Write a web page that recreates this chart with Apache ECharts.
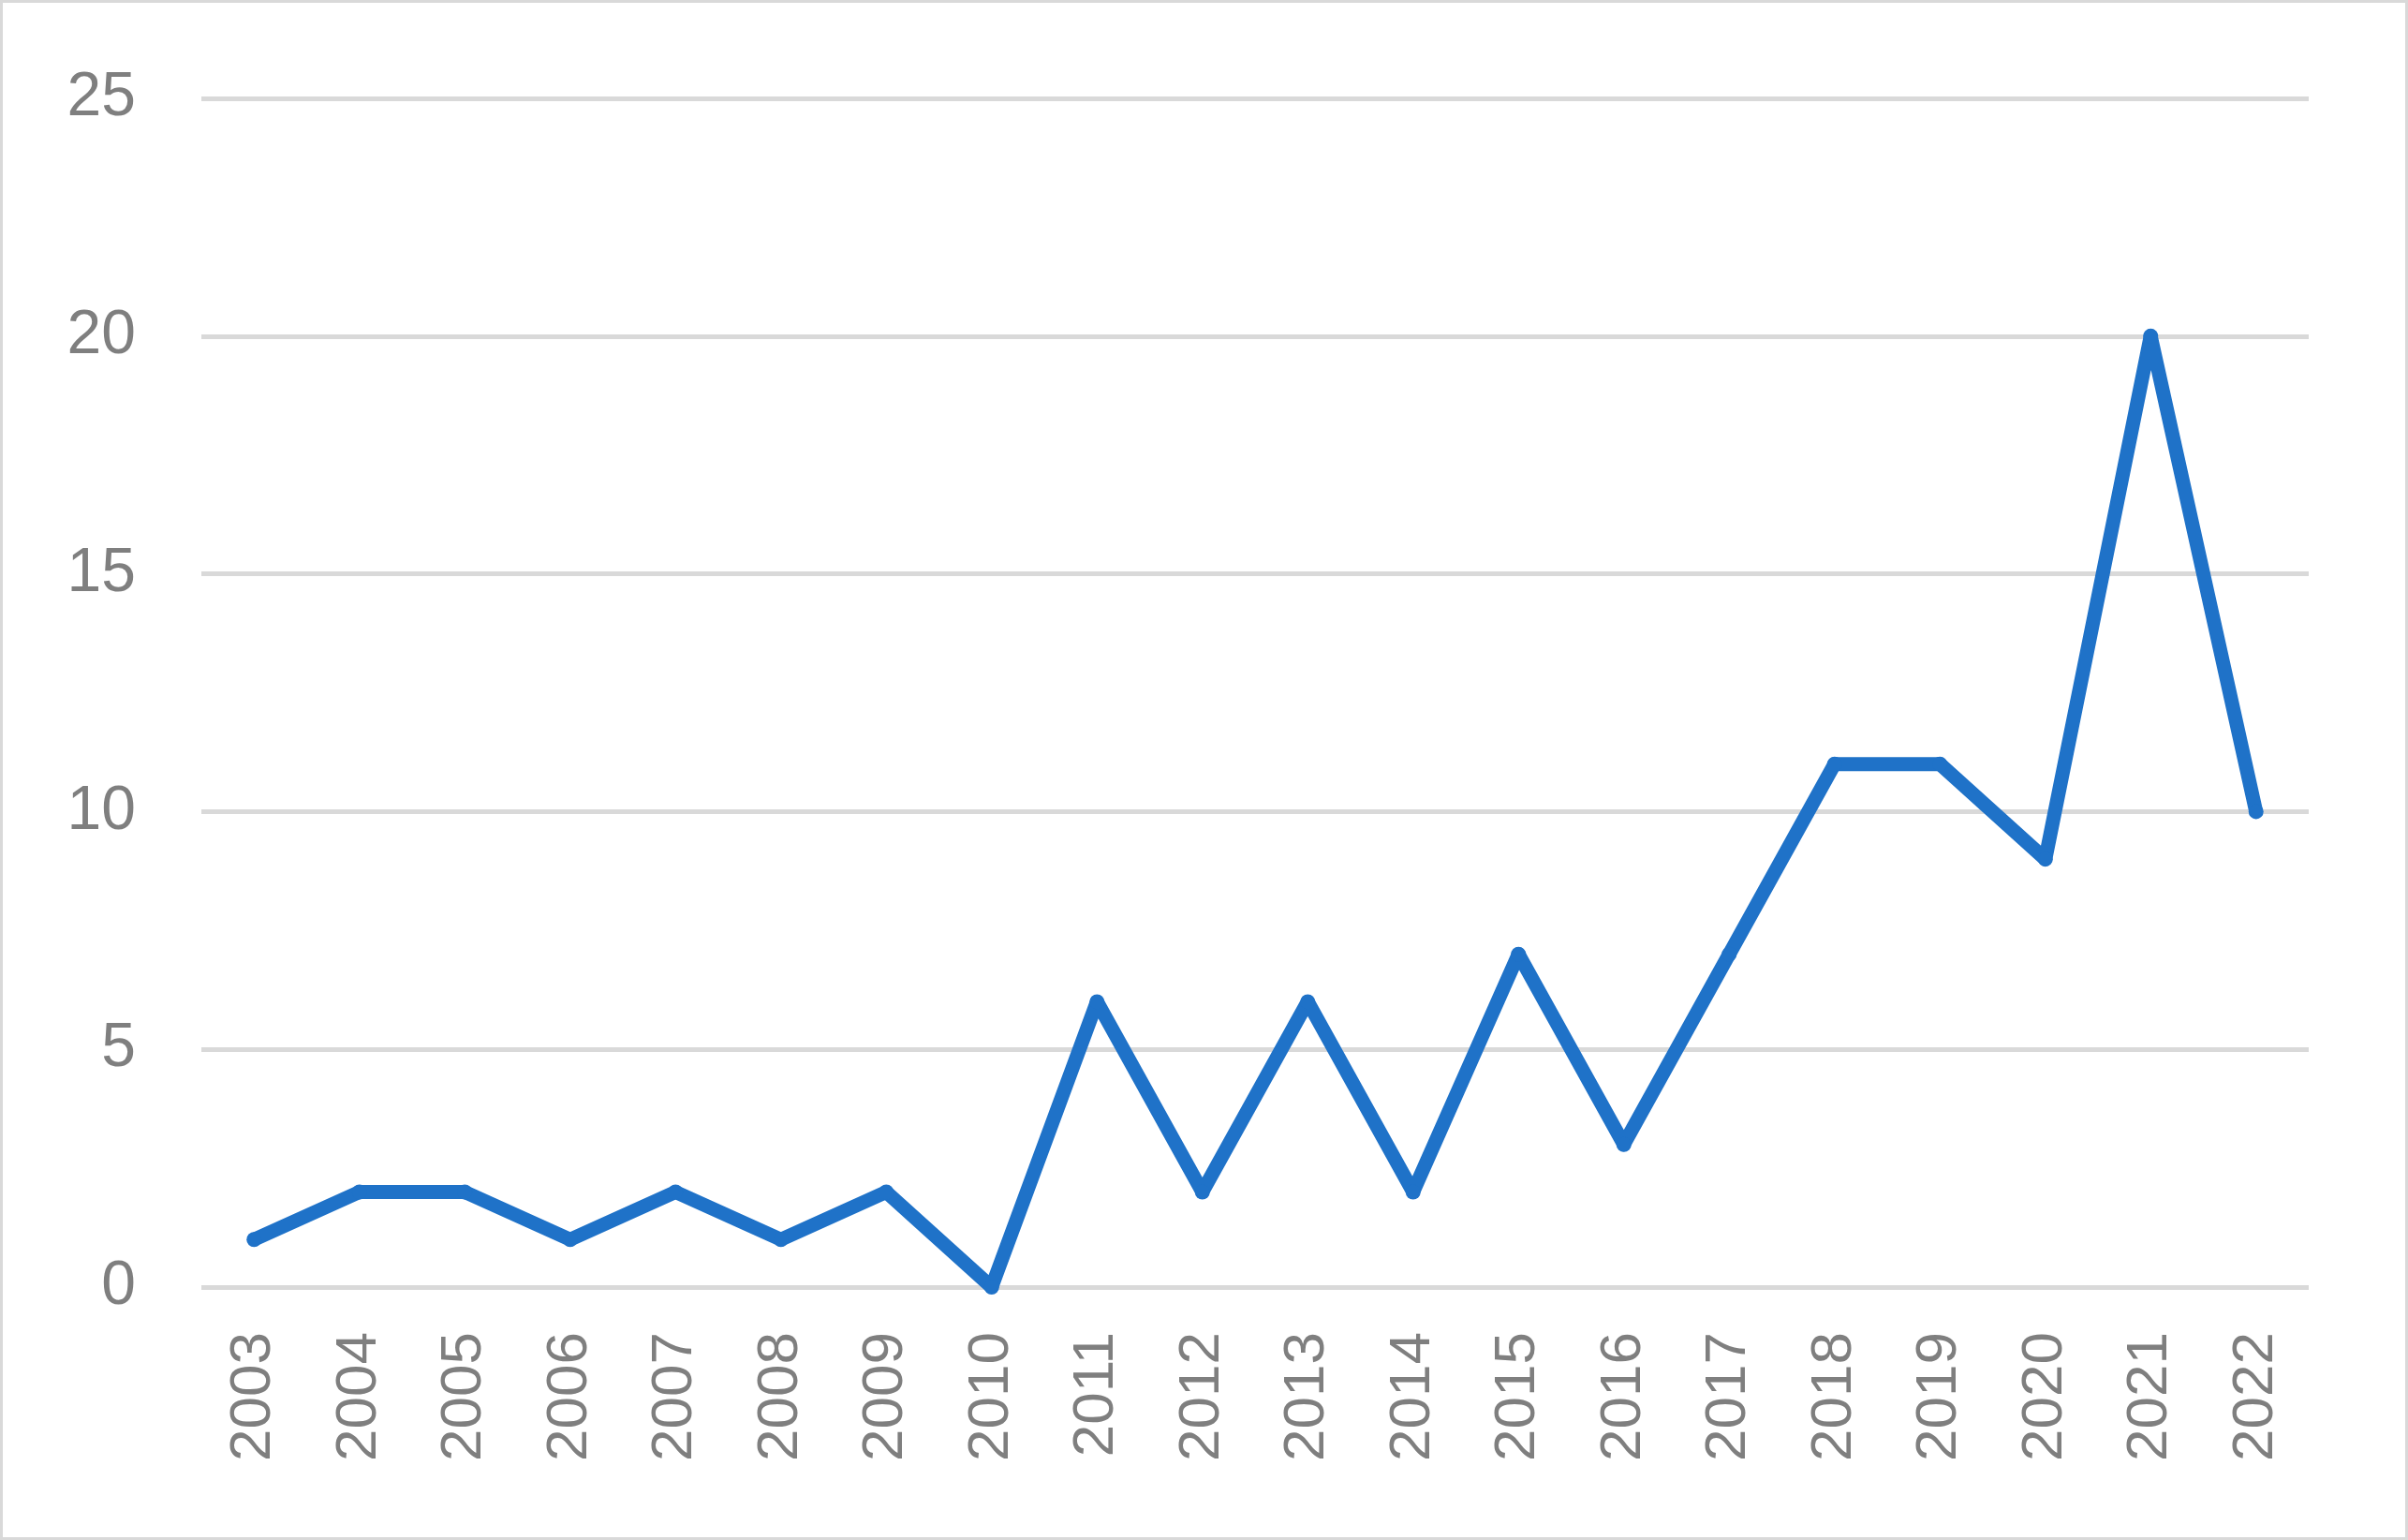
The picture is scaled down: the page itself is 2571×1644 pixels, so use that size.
<!DOCTYPE html>
<html><head><meta charset="utf-8">
<script src="https://cdn.jsdelivr.net/npm/echarts@6/dist/echarts.min.js"></script>
<style>html,body{margin:0;padding:0;background:#fff}#c{width:2571px;height:1644px;box-sizing:border-box;border:3px solid #d9d9d9}</style>
</head><body><div id="c"></div>
<script>
const years=['2003','2004','2005','2006','2007','2008','2009','2010','2011','2012','2013','2014','2015','2016','2017','2018','2019','2020','2021','2022'];
const values=[1,2,2,1,2,1,2,0,6,2,6,2,7,3,7,11,11,9,20,10];
const chart=echarts.init(document.getElementById('c'));
chart.setOption({
  animation:false,
  grid:{left:212,right:103,top:102,bottom:267,containLabel:false},
  xAxis:{type:'category',data:years,boundaryGap:true,
    axisLine:{show:false},axisTick:{show:false},
    axisLabel:{rotate:90,color:'#7f7f7f',fontSize:62,fontFamily:'Liberation Sans',margin:48}},
  yAxis:{type:'value',min:0,max:25,interval:5,
    axisLine:{show:false},axisTick:{show:false},
    splitLine:{lineStyle:{color:'#d9d9d9',width:5}},
    axisLabel:{color:'#7f7f7f',fontSize:66,fontFamily:'Liberation Sans',margin:70}},
  series:[{type:'line',data:values,symbol:'circle',symbolSize:16,
    lineStyle:{color:'#1f72c8',width:15,join:'round'},
    itemStyle:{color:'#1f72c8'}}]
});
</script></body></html>
